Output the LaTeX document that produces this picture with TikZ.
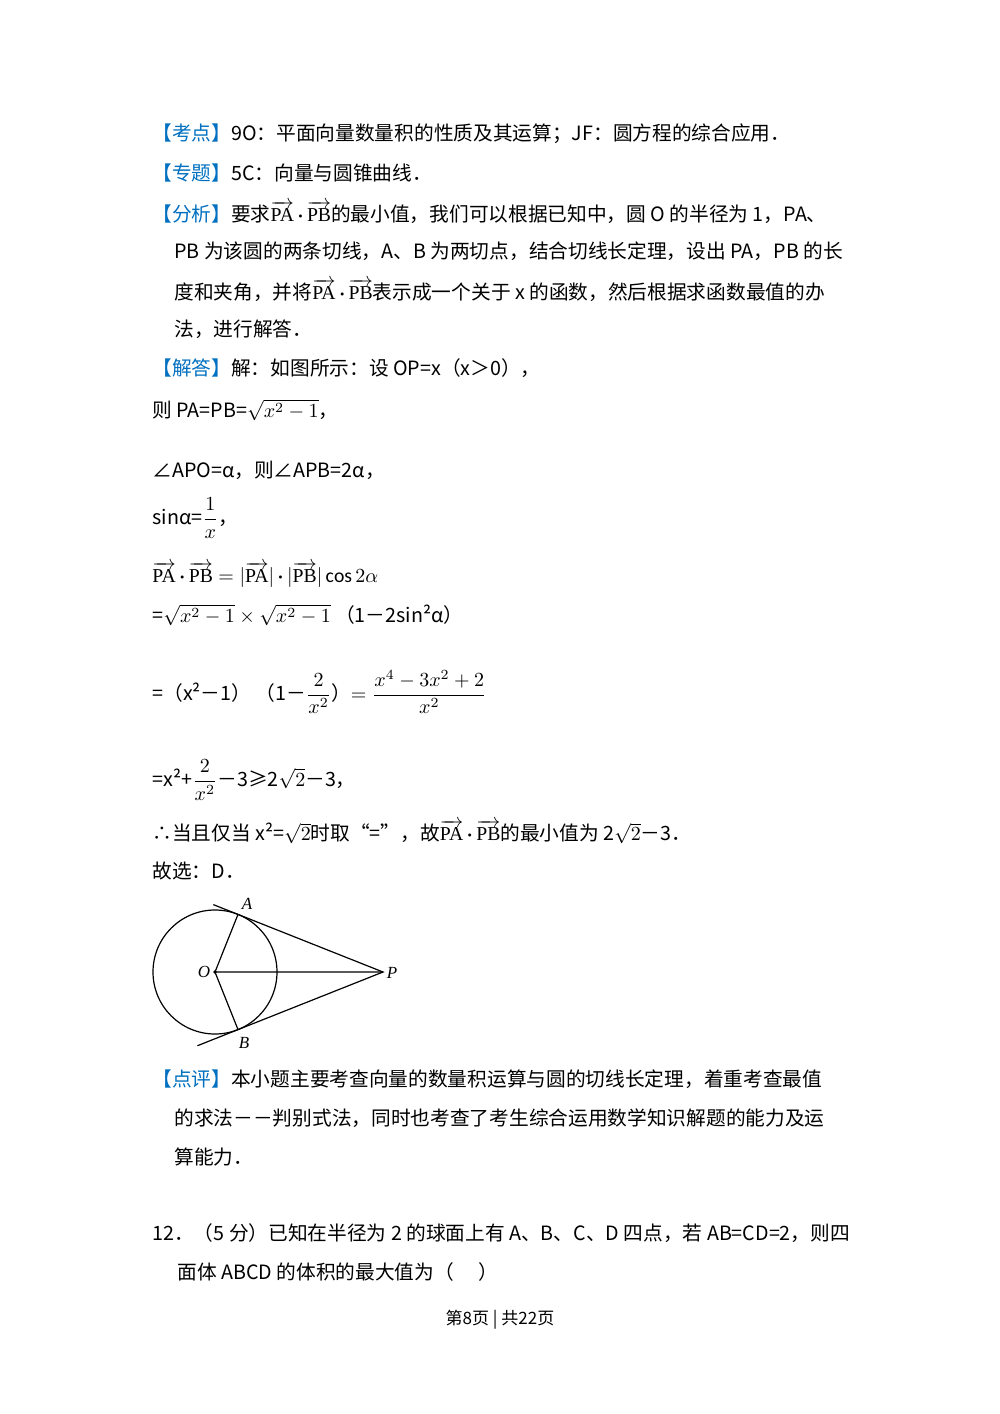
\documentclass[tikz,border=0pt]{standalone}
\usepackage{amsmath,amssymb}
\usepackage{fontspec}
\usetikzlibrary{calc}
\setmainfont{Carlito}
\newfontfamily\cjk{Noto Sans CJK SC}
\newfontfamily\lser{Liberation Serif}
\definecolor{kb}{RGB}{0,112,192}
\newcommand{\kb}[1]{\textcolor{kb}{【#1】}}
\newcommand{\va}{\overrightarrow{\text{\lser PA}}}
\newcommand{\vb}{\overrightarrow{\text{\lser PB}}}
\newcommand{\dt}{\,{\boldsymbol\cdot}\,}
\begin{document}
\begin{tikzpicture}[x=0.5pt,y=-0.5pt,
  t/.style={anchor=west,inner sep=0pt,font=\cjk\fontsize{9.85}{12}\selectfont},
  lab/.style={inner sep=0pt,font=\lser\itshape\fontsize{8.5}{9}\selectfont}]
\useasboundingbox (0,0) rectangle (1000,1414);
\fill[white] (0,0) rectangle (1000,1414);
\node[t] (l1) at (152,134) {\kb{考点}9O：平面向量数量积的性质及其运算；JF：圆方程的综合应用．};
\node[t] (l2) at (152,173) {\kb{专题}5C：向量与圆锥曲线．};
\node[t] (l3) at (152,212) {\kb{分析}要求$\va\dt\vb$的最小值，我们可以根据已知中，圆 O 的半径为 1，PA、};
\node[t] (l4) at (174,251) {PB 为该圆的两条切线，A、B 为两切点，结合切线长定理，设出 PA，PB 的长};
\node[t] (l5) at (174,290) {度和夹角，并将$\va\dt\vb$表示成一个关于 x 的函数，然后根据求函数最值的办};
\node[t] (l6) at (174,329) {法，进行解答．};
\node[t] (l7) at (152,368) {\kb{解答}解：如图所示：设 OP=x（x＞0），};
\node[t] (l8) at (152,410) {则 PA=PB=$\sqrt{x^2-1}$，};
\node[t] (l9) at (152,470) {∠APO=α，则∠APB=2α，};
\node[t] (l10) at (152,518) {sinα=$\dfrac{1}{x}$，};
\node[t] (l11) at (152,575) {$\va\dt\vb=|\va|\dt|\vb|\cos2\alpha$};
\node[t] (l12) at (152,615) {=$\sqrt{x^2-1}\times\sqrt{x^2-1}$\ （1－2sin²α）};
\node[t] (l13) at (152,692) {=（x²－1）\ （1－$\dfrac{2}{x^2}$）$=\dfrac{x^4-3x^2+2}{x^2}$};
\node[t] (l14) at (152,780) {=x²+$\dfrac{2}{x^2}$－3≥2$\sqrt{2}$－3，};
\node[t] (l15) at (152,832) {∴当且仅当 x²=$\sqrt{2}$时取“=”，故$\va\dt\vb$的最小值为 2$\sqrt{2}$－3．};
\node[t] (l16) at (152,871) {故选：D．};
% diagram
\coordinate (O) at (215,972);
\coordinate (P) at (383,972);
\coordinate (A) at (238,914.4);
\coordinate (B) at (238,1029.6);
\draw[line width=0.6pt] (O) circle (62);
\draw[line width=0.6pt] (O) -- (A) (O) -- (B) (O) -- (P);
\draw[line width=0.6pt] ($(A)!-0.17!(P)$) -- (P) -- ($(B)!-0.28!(P)$);
\fill (O) circle (1.8);
\node[lab] (la) at (247,904) {A};
\node[lab] (lb) at (244,1043) {B};
\node[lab] (lo) at (204,972) {O};
\node[lab] (lp) at (392,973) {P};
\node[t] (l17) at (152,1079) {\kb{点评}本小题主要考查向量的数量积运算与圆的切线长定理，着重考查最值};
\node[t] (l18) at (174,1118) {的求法－－判别式法，同时也考查了考生综合运用数学知识解题的能力及运};
\node[t] (l19) at (174,1157) {算能力．};
\node[t] (l20) at (152,1233) {12．（5 分）已知在半径为 2 的球面上有 A、B、C、D 四点，若 AB=CD=2，则四};
\node[t] (l21) at (177,1272) {面体 ABCD 的体积的最大值为（\quad\ ）};
\node[inner sep=0pt,font=\cjk\fontsize{8.5}{10}\selectfont] (ft) at (500,1320) {第8页 | 共22页};
\end{tikzpicture}
\end{document}
